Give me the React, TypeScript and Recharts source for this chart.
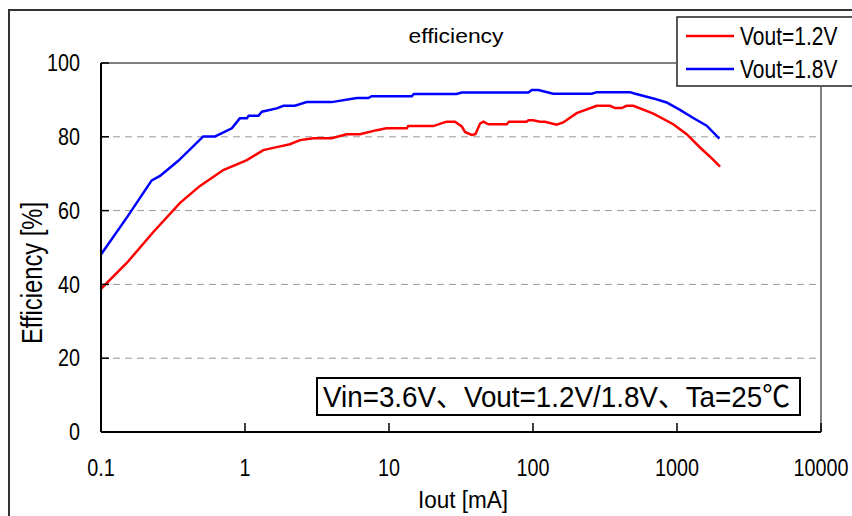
import React from "react";
import {
  LineChart,
  Line,
  XAxis,
  YAxis,
  CartesianGrid,
  ReferenceLine,
  Legend,
} from "recharts";

// ---- data ----
const xTicks = [0.1, 1, 10, 100, 1000, 10000];
const yTicks = [0, 20, 40, 60, 80, 100];

const red12: { x: number; y: number }[] = [
  [0.1, 38.8], [0.151, 45.8], [0.231, 54.2], [0.354, 62.1], [0.487, 66.7],
  [0.707, 71.0], [1.03, 73.7], [1.34, 76.4], [1.75, 77.4], [2.05, 78.0],
  [2.41, 79.1], [2.98, 79.6], [4.0, 79.6], [5.08, 80.7], [6.29, 80.7],
  [8.2, 81.8], [9.6, 82.3], [13.3, 82.3], [13.6, 82.9], [20.3, 82.9],
  [25.1, 84.1], [28.7, 84.1], [32, 82.8], [33.7, 81.3], [37.5, 80.5],
  [39.8, 80.7], [42.9, 83.6], [45.2, 84.1], [49, 83.4], [65.7, 83.4],
  [68, 84.1], [90, 84.1], [93, 84.5], [100, 84.5], [112, 84.1],
  [121, 84.1], [146, 83.3], [162, 83.9], [201, 86.4], [277, 88.4],
  [343, 88.4], [371, 87.8], [413, 87.8], [447, 88.4], [498, 88.4],
  [685, 86.3], [942, 83.4], [1167, 80.7], [1445, 77.1], [1696, 74.6],
  [1991, 71.9],
].map(([x, y]) => ({ x, y }));

const blue18: { x: number; y: number }[] = [
  [0.1, 48.1], [0.151, 58.1], [0.225, 68.2], [0.257, 69.4], [0.344, 73.5],
  [0.513, 80.1], [0.62, 80.1], [0.81, 82.3], [0.92, 85.0], [1.03, 85.0],
  [1.06, 85.7], [1.24, 85.7], [1.31, 86.8], [1.66, 87.7], [1.85, 88.4],
  [2.22, 88.4], [2.68, 89.4], [4.0, 89.4], [5.97, 90.5], [7.18, 90.5],
  [7.58, 91.0], [14.4, 91.0], [14.9, 91.6], [29.5, 91.6], [32, 92.0],
  [92.9, 92.0], [98, 92.7], [109, 92.7], [138, 91.7], [256, 91.7],
  [277, 92.1], [472, 92.1], [498, 91.8], [685, 90.4], [847, 89.3],
  [1049, 87.3], [1297, 85.1], [1607, 83.0], [1968, 79.5],
].map(([x, y]) => ({ x, y }));

const seriesNames = ["Vout=1.2V", "Vout=1.8V"];
const seriesColors = ["#ff0000", "#0000ff"];
const titleText = "efficiency";
const xTitle = "Iout [mA]";
const yTitle = "Efficiency [%]";
const noteText = "Vin=3.6V、Vout=1.2V/1.8V、Ta=25℃";

// ---- layout ----
const W = 852;
const H = 516;
const PLOT_L = 101;
const PLOT_T = 63;
const PLOT_R = 821;
const PLOT_B = 432;
const LEG_L = 676;
const LEG_T = 16;
const LEG_W = W - LEG_L;
const FONT = "'Liberation Sans', Arial, 'Noto Sans CJK JP', sans-serif";

const YTick = (props: any) => {
  const { y, payload } = props;
  return (
    <g>
      <line x1={PLOT_L} x2={PLOT_L + 8} y1={y} y2={y} stroke="#000" strokeWidth={1.5} />
      <text
        transform={`translate(80,${y}) scale(0.86,1)`}
        textAnchor="end"
        dy="0.36em"
        fontSize={23}
        fontFamily={FONT}
        fill="#000"
      >
        {payload.value}
      </text>
    </g>
  );
};

const XTick = (props: any) => {
  const { x, payload } = props;
  return (
    <g>
      <line x1={x} x2={x} y1={PLOT_B} y2={PLOT_B - 9} stroke="#000" strokeWidth={1.5} />
      <text
        transform={`translate(${x},476) scale(0.86,1)`}
        textAnchor="middle"
        fontSize={23}
        fontFamily={FONT}
        fill="#000"
      >
        {payload.value}
      </text>
    </g>
  );
};

const LegendBox = () => (
  <svg width={LEG_W} height={72} style={{ display: "block" }}>
    <rect x={0} y={0} width={LEG_W} height={71} fill="#fff" />
    <path d={`M${LEG_W},1 H1 V70 H${LEG_W}`} fill="none" stroke="#222" strokeWidth={1.5} />
    {seriesNames.map((n, i) => (
      <g key={n}>
        <line x1={10} x2={58} y1={20 + i * 33} y2={20 + i * 33} stroke={seriesColors[i]} strokeWidth={2.5} />
        <text
          transform={`translate(64,${20 + i * 33}) scale(0.84,1)`}
          dy="0.36em"
          fontSize={25}
          fontFamily={FONT}
          fill="#000"
        >
          {n}
        </text>
      </g>
    ))}
  </svg>
);

export default function App() {
  return (
    <div
      style={{
        position: "absolute",
        left: 0,
        top: 0,
        width: W,
        height: H,
        overflow: "hidden",
        background: "#fff",
      }}
    >
      <div
        style={{
          position: "absolute",
          left: 8,
          top: 9,
          width: W - 8,
          height: H - 9,
          borderLeft: "2px solid #333",
          borderTop: "2px solid #333",
        }}
      />
      <div style={{ position: "absolute", left: 0, top: 0 }}>
        <LineChart
          width={W}
          height={H}
          margin={{ top: PLOT_T, right: W - PLOT_R, bottom: 44, left: PLOT_L - 60 }}
        >
          <CartesianGrid horizontal vertical={false} stroke="#999" strokeDasharray="7 5" strokeWidth={1} />
          <XAxis
            type="number"
            dataKey="x"
            scale="log"
            domain={[0.1, 10000]}
            ticks={xTicks}
            allowDataOverflow
            height={40}
            axisLine={{ stroke: "#000", strokeWidth: 2 }}
            tickLine={false}
            tick={<XTick />}
          />
          <YAxis
            type="number"
            domain={[0, 100]}
            ticks={yTicks}
            width={60}
            axisLine={{ stroke: "#000", strokeWidth: 2 }}
            tickLine={false}
            tick={<YTick />}
          />
          <ReferenceLine y={100} stroke="#808080" strokeWidth={2} />
          <ReferenceLine x={10000} stroke="#808080" strokeWidth={2} />
          <Line
            data={red12}
            dataKey="y"
            name={seriesNames[0]}
            stroke={seriesColors[0]}
            strokeWidth={2.5}
            dot={false}
            type="linear"
            isAnimationActive={false}
          />
          <Line
            data={blue18}
            dataKey="y"
            name={seriesNames[1]}
            stroke={seriesColors[1]}
            strokeWidth={2.5}
            dot={false}
            type="linear"
            isAnimationActive={false}
          />
          <Legend
            layout="vertical"
            align="center"
            verticalAlign="middle"
            wrapperStyle={{ position: "absolute", left: LEG_L, top: LEG_T, width: LEG_W, height: 72 }}
            content={() => <LegendBox />}
          />
          <text
            x={456}
            y={43}
            textAnchor="middle"
            fontSize={20}
            fontFamily={FONT}
            textLength={95}
            lengthAdjust="spacingAndGlyphs"
            fill="#000"
          >
            {titleText}
          </text>
          <text
            x={463}
            y={508}
            textAnchor="middle"
            fontSize={23}
            fontFamily={FONT}
            textLength={90}
            lengthAdjust="spacingAndGlyphs"
            fill="#000"
          >
            {xTitle}
          </text>
          <text
            transform="translate(42,273) rotate(-90)"
            textAnchor="middle"
            fontSize={29}
            fontFamily={FONT}
            textLength={142}
            lengthAdjust="spacingAndGlyphs"
            fill="#000"
          >
            {yTitle}
          </text>
          <rect x={317} y={378} width={483} height={37} fill="#fff" stroke="#000" strokeWidth={2} />
          <text
            x={323}
            y={397}
            dy="0.36em"
            fontSize={29}
            fontFamily={FONT}
            textLength={467}
            lengthAdjust="spacingAndGlyphs"
            fill="#000"
          >
            {noteText}
          </text>
        </LineChart>
      </div>
    </div>
  );
}
